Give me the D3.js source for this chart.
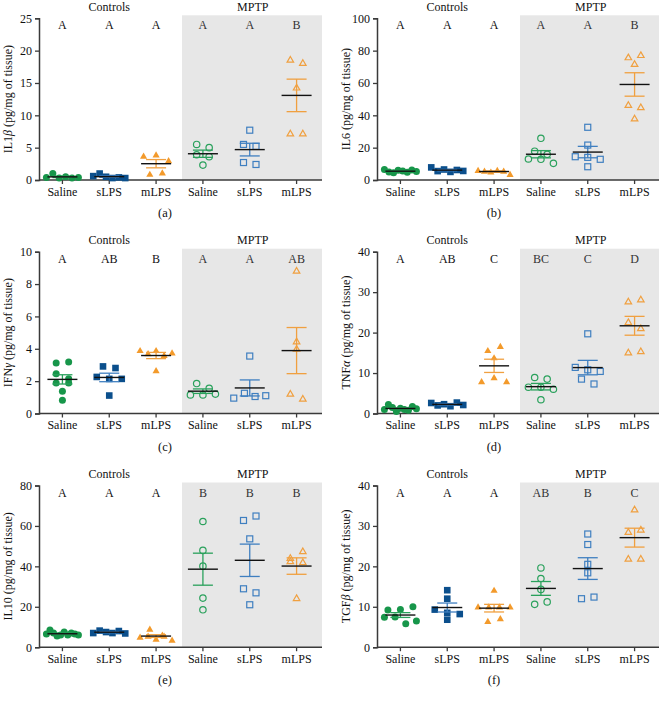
<!DOCTYPE html>
<html>
<head>
<meta charset="utf-8">
<script src="https://cdn.jsdelivr.net/npm/d3@7"></script>
<style>
  body { margin: 0; background: #fff; }
  svg text { font-family: "Liberation Serif", "DejaVu Serif", serif; }
</style>
</head>
<body>
<svg id="chart" width="659" height="702"></svg>
<script>
// group names (3 controls + 3 MPTP)
var groups = ["Saline", "sLPS", "mLPS", "Saline", "sLPS", "mLPS"];

// values per group, pg/mg of tissue
var il1b = [
	[0.4, 1.0, 0.3, 0.5, 0.3, 0.4],
	[0.6, 1.0, 0.5, 0.3, 0.4, 0.3],
	[3.7, 3.9, 3.0, 0.9, 1.1],
	[5.5, 5.0, 3.9, 3.6, 2.3],
	[7.7, 5.5, 5.2, 2.7, 2.4],
	[18.6, 18.1, 14.3, 7.2, 7.2]
];
var il6 = [
	[6.5, 5.0, 4.5, 6.0, 5.5, 4.8, 6.2, 5.2],
	[7.8, 5.5, 6.5, 5.0, 6.2, 5.6],
	[6.0, 5.5, 5.0, 6.0, 5.5, 3.5],
	[25.8, 17.8, 15.9, 13.0, 12.8, 10.3],
	[32.6, 21.6, 14.4, 14.0, 12.8, 8.2],
	[75.9, 77.3, 71.8, 46.4, 45.0, 38.1]
];
var ifng = [
	[3.12, 3.18, 2.46, 1.89, 2.14, 1.89, 1.37, 0.82],
	[2.91, 2.81, 2.26, 2.14, 2.14, 1.11],
	[3.9, 3.7, 3.9, 3.6, 3.75, 2.65],
	[1.15, 1.85, 1.55, 1.15, 1.2],
	[3.55, 0.95, 1.25, 1.05, 1.1],
	[8.83, 4.46, 4.0, 1.23, 0.92]
];
var tnfa = [
	[1.0, 2.2, 1.5, 0.5, 1.3, 1.0, 0.8, 1.7, 1.2],
	[2.6, 2.0, 2.3, 1.8, 2.7, 2.1],
	[15.6, 16.6, 13.8, 7.9, 8.9, 7.9],
	[8.9, 8.5, 6.5, 6.5, 6.0, 3.4],
	[19.7, 11.4, 10.8, 10.4, 8.5, 7.3],
	[27.7, 28.2, 22.6, 21.1, 15.1, 15.4]
];
var il10 = [
	[6.5, 8.5, 7.0, 5.5, 6.0, 7.5, 6.0, 7.0, 6.5, 6.0],
	[7.0, 8.2, 7.5, 7.0, 8.0, 6.8],
	[9.0, 6.0, 5.0, 5.5, 4.0, 5.5, 3.5],
	[62.2, 47.9, 40.1, 24.3, 18.5],
	[62.7, 64.9, 53.6, 28.9, 26.9, 21.0],
	[44.2, 47.5, 42.6, 42.1, 24.3]
];
var tgfb = [
	[9.2, 9.3, 10.0, 7.4, 7.5, 5.8, 6.5],
	[14.1, 12.0, 9.3, 8.5, 6.8, 8.2],
	[14.1, 10.0, 10.0, 10.0, 10.0, 6.4, 7.1],
	[19.6, 17.0, 14.3, 10.6, 11.2],
	[28.0, 25.4, 20.5, 18.4, 12.0, 12.4],
	[34.1, 28.5, 29.1, 21.9, 21.9]
];

// significance letters
var lettersA = ["A", "A", "A", "A", "A", "B"];
var lettersB = ["A", "A", "A", "A", "A", "B"];
var lettersC = ["A", "AB", "B", "A", "A", "AB"];
var lettersD = ["A", "AB", "C", "BC", "C", "D"];
var lettersE = ["A", "A", "A", "B", "B", "B"];
var lettersF = ["A", "A", "A", "AB", "B", "C"];

var panels = [
	{ data: il1b, letters: lettersA, max: 25, step: 5, name: "IL1", greek: "β", tag: "(a)", col: 0, row: 0 },
	{ data: il6, letters: lettersB, max: 100, step: 20, name: "IL6", greek: "", tag: "(b)", col: 1, row: 0 },
	{ data: ifng, letters: lettersC, max: 10, step: 2, name: "IFN", greek: "γ", tag: "(c)", col: 0, row: 1 },
	{ data: tnfa, letters: lettersD, max: 40, step: 10, name: "TNF", greek: "α", tag: "(d)", col: 1, row: 1 },
	{ data: il10, letters: lettersE, max: 80, step: 20, name: "IL10", greek: "", tag: "(e)", col: 0, row: 2 },
	{ data: tgfb, letters: lettersF, max: 40, step: 10, name: "TGF", greek: "β", tag: "(f)", col: 1, row: 2 }
];

var fillCol = ["#17964a", "#0b4f8c", "#f39a2b"];
var lineCol = ["#2aa15c", "#3f7fc0", "#f0a040"];
var shapes = ["circle", "square", "triangle"];

var colX = [39, 377];
var rowY = [[18.3, 180], [251.7, 413.5], [485.5, 647.2]];
var plotW = 283;

var svg = d3.select("#chart");

// GraphPad-like scatter: points close in y share a row, spread around the centre
function swarm(vals, y) {
	var spacing = 12.5, maxW = 32, rowH = 7;
	var pts = vals.map((v, i) => ({ v: v, i: i, y: y(v), x: 0 })).sort((a, b) => a.y - b.y);
	var rows = [];
	pts.forEach(function(p) {
		var r = rows[rows.length - 1];
		if (r && p.y - r[0].y <= rowH) r.push(p);
		else rows.push([p]);
	});
	rows.forEach(function(r) {
		var n = r.length;
		var s = n > 1 ? Math.min(spacing, maxW / (n - 1)) : 0;
		r.sort((a, b) => a.i - b.i);
		r.forEach((p, j) => { p.x = (j - (n - 1) / 2) * s; });
	});
	return pts;
}

function drawMark(g, shape, x, y, filled, i) {
	var col = filled ? fillCol[i] : lineCol[i];
	var m;
	if (shape == "circle") {
		m = g.append("circle").attr("cx", x).attr("cy", y).attr("r", filled ? 3.5 : 3.2);
	} else if (shape == "square") {
		var s = filled ? 6.6 : 6;
		m = g.append("rect").attr("x", x - s / 2).attr("y", y - s / 2).attr("width", s).attr("height", s);
	} else {
		var h = filled ? 7 : 6.4;
		m = g.append("path").attr("d", d3.symbol(d3.symbolTriangle, h * h * 0.45)()).attr("transform", `translate(${x},${y + 0.6})`);
	}
	if (filled) m.attr("fill", col);
	else m.attr("fill", "none").attr("stroke", col).attr("stroke-width", 1.2);
}

panels.forEach(function(p) {
	var x0 = colX[p.col];
	var yTop = rowY[p.row][0], yBot = rowY[p.row][1];
	var g = svg.append("g");

	var x = d3.scaleBand().domain(d3.range(6)).range([x0, x0 + 281]);
	var y = d3.scaleLinear().domain([0, p.max]).range([yBot, yTop]);
	var cx = i => x(i) + x.bandwidth() / 2;

	// MPTP shading
	g.append("rect")
		.attr("x", x0 + 143).attr("y", yTop - 3)
		.attr("width", plotW - 143).attr("height", yBot - yTop + 3)
		.attr("fill", "#e7e7e7");

	// group headings
	var hy = Math.max(yTop - 8, 11);
	g.append("text").attr("x", cx(1)).attr("y", hy)
		.attr("text-anchor", "middle").attr("font-size", 12).attr("fill", "#111").text("Controls");
	g.append("text").attr("x", cx(4) + 3).attr("y", hy)
		.attr("text-anchor", "middle").attr("font-size", 12).attr("fill", "#111").text("MPTP");

	// letters
	g.selectAll(".let").data(p.letters).enter().append("text")
		.attr("x", (d, i) => cx(i)).attr("y", yTop + 11)
		.attr("text-anchor", "middle").attr("font-size", 12)
		.attr("fill", (d, i) => i < 3 ? "#111" : "#333")
		.text(d => d);

	// axes
	var yAxis = d3.axisLeft(y).tickValues(d3.range(0, p.max + 0.001, p.step)).tickSize(4).tickPadding(3);
	var ya = g.append("g").attr("transform", `translate(${x0},0)`).call(yAxis);
	var xa = g.append("g").attr("transform", `translate(0,${yBot})`)
		.call(d3.axisBottom(x).tickFormat(i => groups[i]).tickSize(4).tickSizeOuter(0).tickPadding(3));
	xa.select(".domain").attr("d", `M${x0},0H${x0 + plotW}`);
	[ya, xa].forEach(function(a) {
		a.select(".domain").attr("stroke", "#3a3a3a").attr("stroke-width", 1.5);
		a.selectAll(".tick line").attr("stroke", "#3a3a3a").attr("stroke-width", 1.3);
		a.selectAll(".tick text").attr("font-size", 12).attr("fill", "#111")
			.attr("font-family", "Liberation Serif, serif");
	});

	// y title
	var t = g.append("text")
		.attr("transform", `translate(${x0 - 31},${(yTop + yBot) / 2}) rotate(-90)`)
		.attr("text-anchor", "middle").attr("font-size", 12).attr("fill", "#111")
		.attr("dy", "0.35em");
	t.append("tspan").text(p.name);
	if (p.greek) t.append("tspan").attr("font-style", "italic").text(p.greek);
	t.append("tspan").text(" (pg/mg of tissue)");

	// panel tag
	g.append("text").attr("x", p.col == 0 ? 165 : 494).attr("y", yBot + 37)
		.attr("text-anchor", "middle").attr("font-size", 12.5).attr("fill", "#111").text(p.tag);

	// points, mean, sem
	p.data.forEach(function(vals, gi) {
		var k = gi % 3, filled = gi < 3;
		var c = cx(gi);
		var m = d3.mean(vals);
		var sem = d3.deviation(vals) / Math.sqrt(vals.length);
		var pts = swarm(vals, y);
		pts.forEach(pt => drawMark(g, shapes[k], c + pt.x, pt.y, filled, k));

		var col = lineCol[k];
		g.append("line").attr("x1", c).attr("x2", c).attr("y1", y(m + sem)).attr("y2", y(m - sem))
			.attr("stroke", col).attr("stroke-width", 1.3);
		[m + sem, m - sem].forEach(function(v) {
			g.append("line").attr("x1", c - 10).attr("x2", c + 10).attr("y1", y(v)).attr("y2", y(v))
				.attr("stroke", col).attr("stroke-width", 1.3);
		});
		g.append("line").attr("x1", c - 15).attr("x2", c + 15).attr("y1", y(m)).attr("y2", y(m))
			.attr("stroke", "#111").attr("stroke-width", 1.4);
	});
});
</script>
</body>
</html>
